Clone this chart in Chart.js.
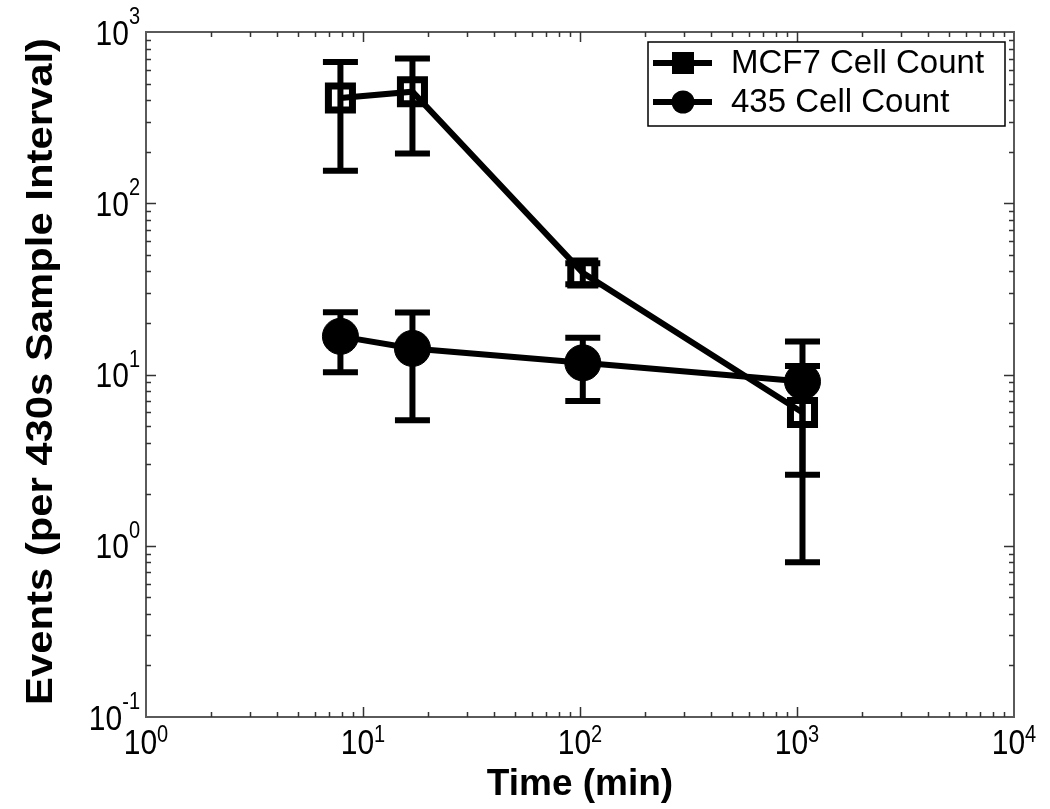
<!DOCTYPE html>
<html><head><meta charset="utf-8">
<script src="https://cdn.jsdelivr.net/npm/chart.js@4/dist/chart.umd.min.js"></script>
<style>html,body{margin:0;padding:0;background:#fff}#wrap{width:1050px;height:809px}</style>
</head><body><div id="wrap"><canvas id="c" width="1050" height="809"></canvas></div>
<script>
// ---- data ----
const timesMin   = [7.87, 16.9, 103, 1060];
const mcf7Count  = [412, 448, 39.2, 6.0];
const mcf7Err    = [257, 253, 5.5, 5.2];
const c435Count  = [16.7, 14.2, 11.7, 9.1];
const c435Err    = [6.4, 8.8, 4.7, 6.5];
const seriesNames = ['MCF7 Cell Count', '435 Cell Count'];
const xDecades = [0, 1, 2, 3, 4];
const yDecades = [-1, 0, 1, 2, 3];
const xTitle = 'Time (min)';
const yTitle = 'Events (per 430s Sample Interval)';

const FONT = '"Liberation Sans", Arial, Helvetica, sans-serif';

function pts(xs, ys) { return xs.map((x, i) => ({ x: x, y: ys[i] })); }

const errors = [mcf7Err, c435Err];

function stretchText(ctx, txt, x, y, k) {
  ctx.save();
  ctx.translate(x, y);
  ctx.scale(1, k);
  ctx.fillText(txt, 0, 0);
  ctx.restore();
}

function drawPow(ctx, exp, x, y, mode) {
  const base = '10', sup = String(exp);
  const K = 1.18;
  ctx.font = '30px ' + FONT;
  const wb = ctx.measureText(base).width;
  ctx.font = '20px ' + FONT;
  const ws = ctx.measureText(sup).width;
  let x0;
  if (mode === 'x') x0 = x - (wb + ws) / 2;
  else x0 = x - (wb + ws);
  const yb = (mode === 'x') ? y + 37 : y + 12.5;
  const ys = (mode === 'x') ? y + 25 : y - 8;
  ctx.fillStyle = '#000';
  ctx.textAlign = 'left';
  ctx.textBaseline = 'alphabetic';
  ctx.font = '30px ' + FONT;
  stretchText(ctx, base, x0, yb, K);
  ctx.font = '20px ' + FONT;
  stretchText(ctx, sup, x0 + wb, ys, K);
}

const decor = {
  id: 'decor',
  beforeDatasetsDraw(chart) {
    const ctx = chart.ctx, xs = chart.scales.x, ys = chart.scales.y;
    ctx.save();
    // error bars
    chart.data.datasets.forEach((ds, di) => {
      const err = errors[di];
      ds.data.forEach((p, i) => {
        const px = xs.getPixelForValue(p.x);
        const top = ys.getPixelForValue(p.y + err[i]);
        const lowV = p.y - err[i];
        const bot = ys.getPixelForValue(lowV > 0 ? lowV : ys.min);
        ctx.strokeStyle = '#000';
        ctx.lineWidth = 6;
        ctx.lineCap = 'butt';
        ctx.beginPath();
        ctx.moveTo(px, top); ctx.lineTo(px, bot);
        ctx.moveTo(px - 17.5, top); ctx.lineTo(px + 17.5, top);
        ctx.moveTo(px - 17.5, bot); ctx.lineTo(px + 17.5, bot);
        ctx.stroke();
      });
    });
    ctx.restore();
  },
  afterDraw(chart) {
    const ctx = chart.ctx, xs = chart.scales.x, ys = chart.scales.y;
    const a = chart.chartArea;
    ctx.save();
    // frame
    ctx.strokeStyle = '#5a5a5a';
    ctx.lineWidth = 2;
    ctx.strokeRect(a.left, a.top, a.right - a.left, a.bottom - a.top);
    // ticks
    ctx.strokeStyle = '#333';
    ctx.lineWidth = 1.5;
    ctx.beginPath();
    for (let d = xDecades[0]; d < xDecades[xDecades.length - 1]; d++) {
      for (let m = 1; m <= 9; m++) {
        const v = m * Math.pow(10, d);
        if (m === 1 && d === xDecades[0]) continue;
        const px = Math.round(xs.getPixelForValue(v)) + 0.5;
        const L = m === 1 ? 10 : 5;
        ctx.moveTo(px, a.bottom); ctx.lineTo(px, a.bottom - L);
        ctx.moveTo(px, a.top); ctx.lineTo(px, a.top + L);
      }
    }
    for (let d = yDecades[0]; d < yDecades[yDecades.length - 1]; d++) {
      for (let m = 1; m <= 9; m++) {
        const v = m * Math.pow(10, d);
        if (m === 1 && d === yDecades[0]) continue;
        const py = Math.round(ys.getPixelForValue(v)) + 0.5;
        const L = m === 1 ? 10 : 5;
        ctx.moveTo(a.left, py); ctx.lineTo(a.left + L, py);
        ctx.moveTo(a.right, py); ctx.lineTo(a.right - L, py);
      }
    }
    ctx.stroke();
    // tick labels
    xDecades.forEach(d => drawPow(ctx, d, xs.getPixelForValue(Math.pow(10, d)), a.bottom, 'x'));
    yDecades.forEach(d => drawPow(ctx, d, a.left - 6, ys.getPixelForValue(Math.pow(10, d)), 'y'));
    // axis titles
    ctx.fillStyle = '#000';
    ctx.font = 'bold 37px ' + FONT;
    ctx.textAlign = 'center';
    ctx.textBaseline = 'alphabetic';
    ctx.fillText(xTitle, (a.left + a.right) / 2, 795);
    ctx.save();
    ctx.translate(42, (a.top + a.bottom) / 2 - 3);
    ctx.rotate(-Math.PI / 2);
    ctx.scale(1.13, 1);
    ctx.textBaseline = 'middle';
    ctx.fillText(yTitle, 0, 0);
    ctx.restore();
    // legend
    const L = { x: 648, y: 42, w: 357, h: 84 };
    ctx.fillStyle = '#fff';
    ctx.fillRect(L.x, L.y, L.w, L.h);
    ctx.strokeStyle = '#000';
    ctx.lineWidth = 1.5;
    ctx.strokeRect(L.x, L.y, L.w, L.h);
    const rows = [63, 102];
    seriesNames.forEach((name, i) => {
      const y = rows[i];
      ctx.strokeStyle = '#000';
      ctx.lineWidth = 6;
      ctx.beginPath(); ctx.moveTo(653, y); ctx.lineTo(712, y); ctx.stroke();
      ctx.fillStyle = '#000';
      if (i === 0) {
        ctx.fillRect(672, y - 11, 22, 22);
      } else {
        ctx.beginPath(); ctx.arc(683, y, 11.5, 0, Math.PI * 2); ctx.fill();
      }
      ctx.font = '33px ' + FONT;
      ctx.textAlign = 'left';
      ctx.textBaseline = 'middle';
      ctx.fillText(name, 731, y + 1);
    });
    ctx.restore();
  }
};

new Chart(document.getElementById('c'), {
  type: 'scatter',
  data: {
    datasets: [
      {
        label: seriesNames[0],
        data: pts(timesMin, mcf7Count),
        showLine: true,
        borderColor: '#000',
        borderWidth: 6,
        pointStyle: 'rect',
        pointRadius: 17,
        pointBorderWidth: 7,
        pointBorderColor: '#000',
        pointBackgroundColor: 'rgba(0,0,0,0)'
      },
      {
        label: seriesNames[1],
        data: pts(timesMin, c435Count),
        showLine: true,
        borderColor: '#000',
        borderWidth: 6,
        pointStyle: 'circle',
        pointRadius: 18,
        pointBorderWidth: 1,
        pointBorderColor: '#000',
        pointBackgroundColor: '#000'
      }
    ]
  },
  options: {
    responsive: false,
    animation: false,
    devicePixelRatio: 1,
    layout: { padding: { left: 146, right: 36, top: 32, bottom: 92 } },
    scales: {
      x: { type: 'logarithmic', min: 1, max: 10000, display: false },
      y: { type: 'logarithmic', min: 0.1, max: 1000, display: false }
    },
    plugins: { legend: { display: false }, tooltip: { enabled: false } }
  },
  plugins: [decor]
});
</script>
</body></html>
